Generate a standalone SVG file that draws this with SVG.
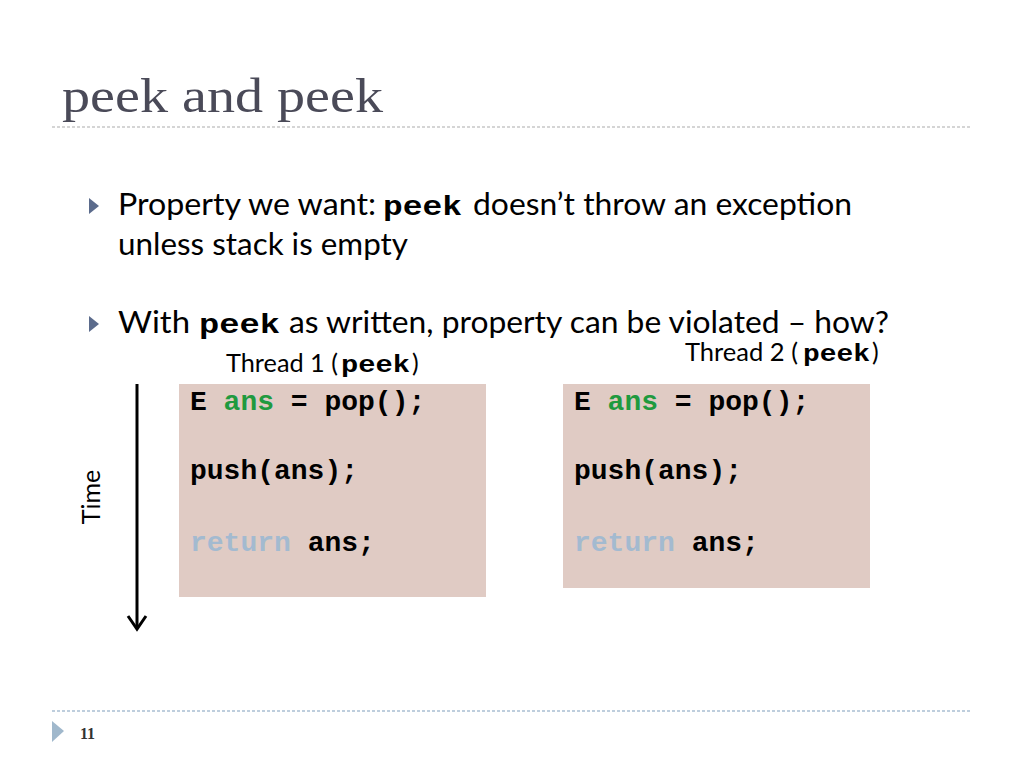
<svg xmlns="http://www.w3.org/2000/svg" width="1024" height="768" viewBox="0 0 1024 768">
<style>
.title{font-family:"Liberation Serif",serif;font-size:48px;fill:#4a4a58}
.body{font-family:"Lato","Liberation Sans",sans-serif;font-size:30px;fill:#000}
.mono{font-family:"Liberation Mono",monospace;font-weight:bold;fill:#000}
.lbl{font-family:"Lato","Liberation Sans",sans-serif;font-size:25px;fill:#000}
.code{font-family:"Liberation Mono",monospace;font-weight:bold;font-size:28px;fill:#000}
.box{fill:#e0cbc4}
.grn{fill:#1f9a3f}
.kw{fill:#a3bad0}
.bullet{fill:#5b6b8c}
</style>
<rect width="1024" height="768" fill="#fff"/>
<g id="title">
<text class="title" x="62" y="112" textLength="321" lengthAdjust="spacingAndGlyphs">peek and peek</text>
<line x1="52" y1="127" x2="972" y2="127" stroke="#c8c8c8" stroke-width="1.5" stroke-dasharray="3,2"/>
</g>
<g id="bullets">
<polygon class="bullet" points="89,198 99,206 89,214"/>
<text class="body" x="118" y="215" textLength="258" lengthAdjust="spacingAndGlyphs">Property we want:</text>
<text class="mono" x="383" y="215" font-size="27" textLength="79" lengthAdjust="spacingAndGlyphs">peek</text>
<text class="body" x="473" y="215" textLength="379" lengthAdjust="spacingAndGlyphs">doesn’t throw an exception</text>
<text class="body" x="118" y="255" textLength="290" lengthAdjust="spacingAndGlyphs">unless stack is empty</text>
<polygon class="bullet" points="89,316 99,324 89,332"/>
<text class="body" x="118" y="333" textLength="72" lengthAdjust="spacingAndGlyphs">With</text>
<text class="mono" x="199" y="333" font-size="27" textLength="81" lengthAdjust="spacingAndGlyphs">peek</text>
<text class="body" x="289" y="333" textLength="600" lengthAdjust="spacingAndGlyphs">as written, property can be violated – how?</text>
</g>
<g id="time-axis">
<line x1="137" y1="384" x2="137" y2="629" stroke="#000" stroke-width="3"/>
<polyline points="128,616 137,629 146,616" fill="none" stroke="#000" stroke-width="3"/>
<text class="lbl" transform="translate(100,497) rotate(-90)" text-anchor="middle">Time</text>
</g>
<g id="thread1">
<text class="lbl" x="226" y="372" textLength="112" lengthAdjust="spacingAndGlyphs">Thread 1 (</text>
<text class="mono" x="341" y="372" font-size="24" textLength="69" lengthAdjust="spacingAndGlyphs">peek</text>
<text class="lbl" x="412" y="372">)</text>
<rect class="box" x="179" y="384" width="307" height="213"/>
<text class="code" x="190" y="410">E <tspan class="grn">ans</tspan> = pop();</text>
<text class="code" x="190" y="479">push(ans);</text>
<text class="code" x="190" y="551"><tspan class="kw">return</tspan> ans;</text>
</g>
<g id="thread2">
<text class="lbl" x="685" y="361" textLength="113" lengthAdjust="spacingAndGlyphs">Thread 2 (</text>
<text class="mono" x="803" y="361" font-size="24" textLength="67" lengthAdjust="spacingAndGlyphs">peek</text>
<text class="lbl" x="872" y="361">)</text>
<rect class="box" x="563" y="384" width="307" height="204"/>
<text class="code" x="574" y="410">E <tspan class="grn">ans</tspan> = pop();</text>
<text class="code" x="574" y="479">push(ans);</text>
<text class="code" x="574" y="551"><tspan class="kw">return</tspan> ans;</text>
</g>
<g id="footer">
<line x1="52" y1="711" x2="972" y2="711" stroke="#a9bfd2" stroke-width="1.5" stroke-dasharray="3,2"/>
<polygon points="52,721 64,731 52,742" fill="#a0b8cc"/>
<text x="80" y="739" font-family="Liberation Serif,serif" font-weight="bold" font-size="16" fill="#333">11</text>
</g>
</svg>
